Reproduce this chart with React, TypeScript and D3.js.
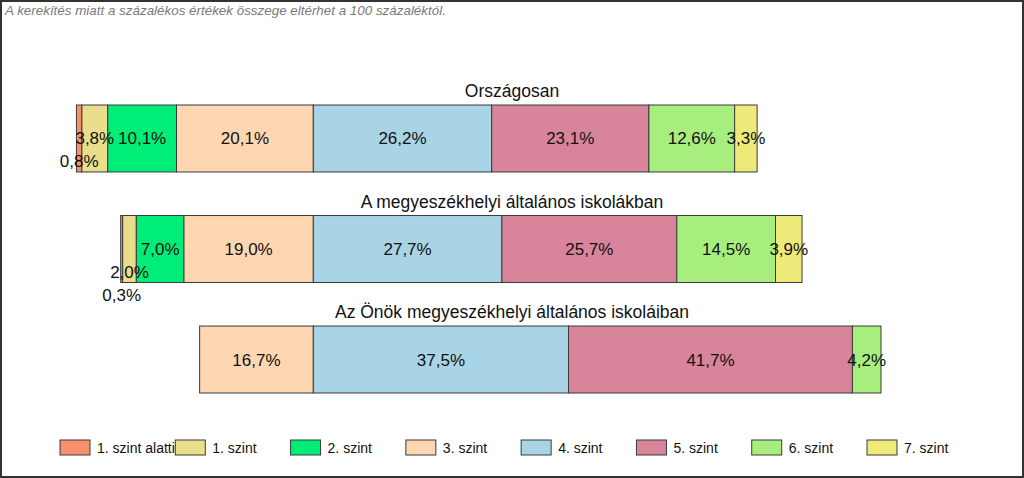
import React from "react";
import * as d3 from "d3";

const levels = ["1. szint alatti", "1. szint", "2. szint", "3. szint", "4. szint", "5. szint", "6. szint", "7. szint"];
const palette = ["#F8916B", "#EADD8B", "#00EE78", "#FFD6B2", "#A9D4E5", "#D8849A", "#A8EE7E", "#EEEA7A"];
const groups = ["Országosan", "A megyeszékhelyi általános iskolákban", "Az Önök megyeszékhelyi általános iskoláiban"];
const orszagosan = [0.8, 3.8, 10.1, 20.1, 26.2, 23.1, 12.6, 3.3];
const megyeszekhely = [0.3, 2.0, 7.0, 19.0, 27.7, 25.7, 14.5, 3.9];
const onok = [0, 0, 0, 16.7, 37.5, 41.7, 4.2, 0];
const seriesByGroup = [orszagosan, megyeszekhely, onok];
const splitIndex = 4; // levels from "4. szint" go to the right of the zero line
const note = "A kerekítés miatt a  százalékos értékek összege eltérhet a 100 százaléktól.";

const W = 1024;
const H = 478;
const FONT = "'Liberation Sans', Arial, sans-serif";
const LABEL_SIZE = 17;

let ctx: CanvasRenderingContext2D | null = null;
function textWidth(s: string, size: number) {
  if (!ctx) ctx = document.createElement("canvas").getContext("2d");
  if (!ctx) return s.length * size * 0.55;
  ctx.font = `${size}px ${FONT}`;
  return ctx.measureText(s).width;
}

const fmt = (v: number) => v.toFixed(1).replace(".", ",") + "%";

export default function App() {
  const x = d3.scaleLinear().domain([-45, 100]).range([7, 994]);
  const y = d3.scaleBand<string>().domain(groups).range([105, 393]).paddingInner(0.394).paddingOuter(0);
  const bw = y.bandwidth();

  const bars = groups.map((g, gi) => {
    const vals = seriesByGroup[gi];
    const leftSum = d3.sum(vals.slice(0, splitIndex));
    let start = -leftSum;
    const segs = vals.map((v, i) => {
      const s = { i, v, x0: start, x1: start + v };
      start += v;
      return s;
    });
    const placed: { l: number; r: number; level: number }[] = [];
    const labels: { i: number; cx: number; level: number; text: string }[] = [];
    const order = segs.filter((s) => s.v > 0).sort((a, b) => b.v - a.v);
    order.forEach((s) => {
      const text = fmt(s.v);
      const cx = (x(s.x0) + x(s.x1)) / 2;
      const w = textWidth(text, LABEL_SIZE);
      const l = cx - w / 2;
      const r = cx + w / 2;
      let level = 0;
      while (placed.some((p) => p.level === level && !(r + 1 <= p.l || l - 1 >= p.r))) level++;
      placed.push({ l, r, level });
      labels.push({ i: s.i, cx, level, text });
    });
    return { g, segs, labels };
  });

  const legendX = d3.scaleLinear().domain([0, levels.length - 1]).range([60, 867]);

  return (
    <svg width={W} height={H} style={{ position: "absolute", left: 0, top: 0, background: "#fff" }} fontFamily={FONT}>
      <rect x={1} y={1} width={W - 2} height={H - 2} fill="#fff" stroke="#333" strokeWidth={2} />
      <text x={5} y={15} fontSize={13.4} fontStyle="italic" fill="#7a7a7a">{note}</text>
      {bars.map((b) => {
        const top = y(b.g)!;
        const cy = top + bw / 2;
        return (
          <g key={b.g}>
            <text x={W / 2} y={top - 8} textAnchor="middle" fontSize={17.5} fill="#111">{b.g}</text>
            {b.segs.filter((s) => s.v > 0).map((s) => (
              <rect key={s.i} x={x(s.x0)} y={top} width={x(s.x1) - x(s.x0)} height={bw}
                fill={palette[s.i]} stroke="#3a3a3a" strokeWidth={1} />
            ))}
            {b.labels.map((l) => (
              <text key={"l" + l.i} x={l.cx} y={cy + 6 + l.level * 23} textAnchor="middle" fontSize={LABEL_SIZE} fill="#111">{l.text}</text>
            ))}
          </g>
        );
      })}
      {levels.map((lv, i) => (
        <g key={lv} transform={`translate(${legendX(i)},440)`}>
          <rect x={0} y={0} width={30} height={15} fill={palette[i]} stroke="#3a3a3a" strokeWidth={1} />
          <text x={37} y={12.5} fontSize={14} fill="#111">{lv}</text>
        </g>
      ))}
    </svg>
  );
}
